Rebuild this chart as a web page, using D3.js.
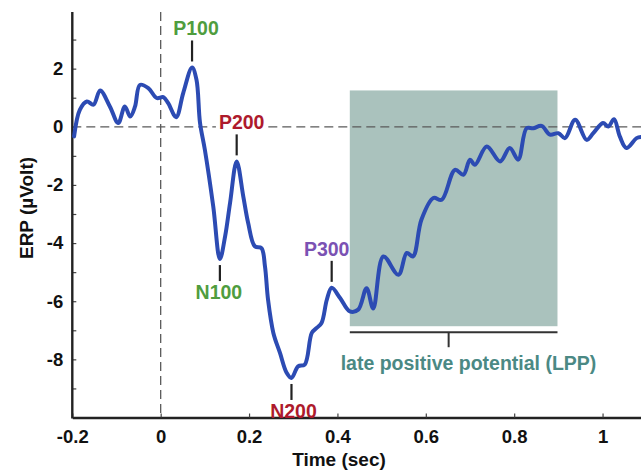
<!DOCTYPE html>
<html>
<head>
<meta charset="utf-8">
<script src="https://cdn.jsdelivr.net/npm/d3@7"></script>
<style>
  html, body { margin: 0; padding: 0; background: #fff; }
  svg { display: block; }
  text { font-family: "Liberation Sans", Arial, Helvetica, sans-serif; font-weight: bold; }
</style>
</head>
<body>
<svg id="chart" width="641" height="471"></svg>
<script>
// ---- data ----
const timeSec = [
  -0.196, -0.183, -0.167, -0.152, -0.137, -0.115, -0.096, -0.081, -0.069, -0.058,
  -0.047, -0.028, -0.009, 0.006, 0.017, 0.035, 0.051, 0.071, 0.081, 0.089,
  0.100, 0.119, 0.134, 0.146, 0.157, 0.172, 0.187, 0.198, 0.213, 0.228,
  0.236, 0.243, 0.255, 0.270, 0.285, 0.296, 0.311, 0.326, 0.342, 0.353,
  0.364, 0.376, 0.387, 0.406, 0.428, 0.447, 0.466, 0.481, 0.504, 0.538,
  0.557, 0.571, 0.590, 0.617, 0.636, 0.666, 0.685, 0.700, 0.711, 0.738,
  0.768, 0.790, 0.809, 0.828, 0.843, 0.862, 0.881, 0.900, 0.915, 0.938,
  0.964, 0.979, 1.001, 1.013, 1.026, 1.039, 1.054, 1.077, 1.087
];
const erpValues = [
  -0.33, 0.58, 0.87, 0.76, 1.25, 0.70, 0.13, 0.70, 0.35, 0.70,
  1.44, 1.33, 0.99, 1.02, 0.81, 0.33, 1.16, 2.04, 1.62, 0.14,
  -0.79, -2.74, -4.55, -3.75, -2.62, -1.19, -2.40, -3.31, -4.11, -4.17,
  -4.80, -5.95, -7.09, -7.78, -8.46, -8.64, -8.24, -8.18, -7.09, -6.92,
  -6.75, -5.95, -5.54, -5.89, -6.35, -6.29, -5.55, -6.25, -4.46, -5.09,
  -4.34, -4.46, -3.20, -2.45, -2.51, -1.48, -1.65, -1.13, -1.31, -0.68,
  -1.19, -0.73, -1.13, -0.05, -0.05, 0.03, -0.27, -0.22, -0.39, 0.24,
  -0.45, -0.22, 0.13, 0.01, 0.26, -0.33, -0.73, -0.39, -0.35
];
const xTickValues = [-0.2, 0, 0.2, 0.4, 0.6, 0.8, 1];
const xTickLabels = ["-0.2", "0", "0.2", "0.4", "0.6", "0.8", "1"];
const yTickValues = [-8, -6, -4, -2, 0, 2];
const yTickLabels = ["-8", "-6", "-4", "-2", "0", "2"];
const yMinorTicks = [-9, -8, -7, -6, -5, -4, -3, -2, -1, 0, 1, 2, 3];
const componentNames = ["P100", "P200", "N100", "N200", "P300"];
const componentTimes = [0.071, 0.172, 0.134, 0.296, 0.387];
const componentValues = [2.04, -1.19, -4.55, -8.64, -5.54];
const lppWindow = [0.428, 0.898];
const lppRange = [-6.86, 1.25];
const lppLabel = "late positive potential (LPP)";
const xTitle = "Time (sec)";
const yTitle = "ERP (\u00B5Volt)";

// ---- styles ----
const compColor = { P100: "#4f9d3e", N100: "#4f9d3e", P200: "#ae1a2c", N200: "#ae1a2c", P300: "#7b52b3" };
const compPos = { P100: "up", P200: "up", P300: "up", N100: "down", N200: "down" };
const compTextDx = { P100: 4, P200: 5, P300: -5, N100: -1, N200: 2 };

const svg = d3.select("#chart");
const x = d3.scaleLinear().domain([-0.2, 1.087]).range([72.3, 641]);
const y = d3.scaleLinear().domain([-10, 4]).range([417.5, 10.5]);

// LPP box
svg.append("rect")
  .attr("x", x(lppWindow[0])).attr("y", y(lppRange[1]))
  .attr("width", x(lppWindow[1]) - x(lppWindow[0]))
  .attr("height", y(lppRange[0]) - y(lppRange[1]))
  .attr("fill", "#aac2bd");

// dashed reference lines
svg.append("line")
  .attr("x1", x(-0.2)).attr("x2", 641).attr("y1", y(0)).attr("y2", y(0))
  .attr("stroke", "#5a5a5a").attr("stroke-width", 1.3).attr("stroke-dasharray", "9,5");
svg.append("line")
  .attr("x1", x(0)).attr("x2", x(0)).attr("y1", 12).attr("y2", y(-10))
  .attr("stroke", "#5a5a5a").attr("stroke-width", 1.3).attr("stroke-dasharray", "9,5");

// axes
const xAxis = d3.axisBottom(x).tickValues(xTickValues)
  .tickFormat((d, i) => xTickLabels[i]).tickSizeInner(-4).tickSizeOuter(0).tickPadding(12);
const gx = svg.append("g").attr("transform", `translate(0,${y(-10)})`).call(xAxis);
gx.select(".domain").attr("stroke", "#222").attr("stroke-width", 2.4);
gx.selectAll(".tick line").attr("stroke", "#444").attr("stroke-width", 1.2);
gx.selectAll(".tick text").attr("font-size", 18.5).attr("fill", "#111")
  .attr("font-family", "Liberation Sans, Arial, sans-serif").attr("font-weight", "bold");

const yAxisMinor = d3.axisRight(y).tickValues(yMinorTicks).tickSize(4).tickFormat("");
const gym = svg.append("g").attr("transform", `translate(${x(-0.2)},0)`).call(yAxisMinor);
gym.select(".domain").remove();
gym.selectAll(".tick line").attr("stroke", "#444").attr("stroke-width", 1.2);

const yAxis = d3.axisLeft(y).tickValues(yTickValues)
  .tickFormat((d, i) => yTickLabels[i]).tickSize(0).tickPadding(9);
const gy = svg.append("g").attr("transform", `translate(${x(-0.2)},0)`).call(yAxis);
gy.select(".domain").remove();
gy.selectAll(".tick text").attr("font-size", 18.5).attr("fill", "#111")
  .attr("font-family", "Liberation Sans, Arial, sans-serif").attr("font-weight", "bold");
svg.append("line")
  .attr("x1", x(-0.2)).attr("x2", x(-0.2)).attr("y1", 12).attr("y2", y(-10) + 1)
  .attr("stroke", "#222").attr("stroke-width", 2.4);

// titles
svg.append("text").attr("x", 339).attr("y", 466).attr("text-anchor", "middle")
  .attr("font-size", 19).attr("fill", "#111").text(xTitle);
svg.append("text").attr("transform", "translate(33,208) rotate(-90)").attr("text-anchor", "middle")
  .attr("font-size", 19).attr("fill", "#111").text(yTitle);

// ERP waveform
const pts = timeSec.map((t, i) => [t, erpValues[i]]);
svg.append("path").datum(pts)
  .attr("fill", "none").attr("stroke", "#2c4bb3").attr("stroke-width", 4)
  .attr("stroke-linejoin", "round").attr("stroke-linecap", "round")
  .attr("d", d3.line().x(d => x(d[0])).y(d => y(d[1])).curve(d3.curveCatmullRom.alpha(0.5)));

// component annotations
componentNames.forEach((name, i) => {
  const px = x(componentTimes[i]);
  const py = y(componentValues[i]);
  const up = compPos[name] === "up";
  const t1 = up ? py - 6 : py + 6;
  const t2 = up ? py - 27 : py + 22;
  svg.append("line").attr("x1", px).attr("x2", px).attr("y1", t1).attr("y2", t2)
    .attr("stroke", "#222").attr("stroke-width", 2.2);
  const ty = up ? t2 - 5 : t2 + 18;
  const g = svg.append("g");
  const txt = g.append("text").attr("x", px + compTextDx[name]).attr("y", ty)
    .attr("text-anchor", "middle").attr("font-size", 19.5).attr("fill", compColor[name]).text(name);
  if (name === "P200") {
    const bb = txt.node().getBBox();
    g.insert("rect", "text").attr("x", bb.x - 3).attr("y", bb.y).attr("width", bb.width + 6)
      .attr("height", bb.height).attr("fill", "#fff");
  }
});

// LPP bracket
const bY = y(lppRange[0]) + 6;
const midT = (lppWindow[0] + lppWindow[1]) / 2;
svg.append("line").attr("x1", x(lppWindow[0])).attr("x2", x(lppWindow[1]))
  .attr("y1", bY).attr("y2", bY).attr("stroke", "#333").attr("stroke-width", 2);
svg.append("line").attr("x1", x(midT) - 5).attr("x2", x(midT) - 5)
  .attr("y1", bY).attr("y2", bY + 15).attr("stroke", "#333").attr("stroke-width", 2);
svg.append("text").attr("x", 468.5).attr("y", 370).attr("text-anchor", "middle")
  .attr("font-size", 19.5).attr("fill", "#4b8984").text(lppLabel);
</script>
</body>
</html>
